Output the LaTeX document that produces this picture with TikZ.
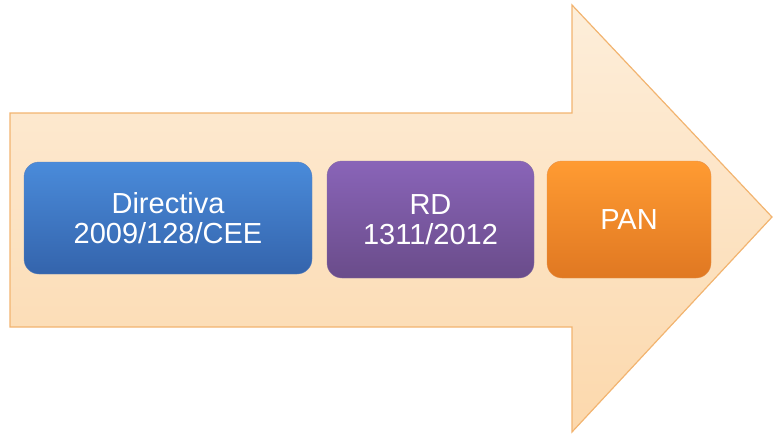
\documentclass[tikz,border=0pt]{standalone}
\usepackage{fontspec}
\setmainfont{Liberation Sans}
\newlength{\du}
\setlength{\du}{1pt}
\definecolor{arrowtop}{RGB}{253,238,218}
\definecolor{arrowbottom}{RGB}{252,216,172}
\definecolor{arrowline}{RGB}{242,180,112}
\definecolor{bluetop}{RGB}{74,139,218}
\definecolor{bluebottom}{RGB}{52,100,172}
\definecolor{purpletop}{RGB}{137,100,184}
\definecolor{purplebottom}{RGB}{106,76,138}
\definecolor{orangetop}{RGB}{255,155,50}
\definecolor{orangebottom}{RGB}{224,120,34}
\tikzset{
  stagebox/.style={rounded corners=15\du, shade, text=white, align=center,
    font=\fontsize{29}{30}\selectfont, inner sep=0pt},
}
\begin{document}
\begin{tikzpicture}[x=\du,y=-\du]
\useasboundingbox (0,0) rectangle (774,434);
% big arrow
\draw[arrowline, line width=1.2\du, top color=arrowtop, bottom color=arrowbottom]
  (10,113) -- (572,113) -- (572,5) -- (772,217) -- (572,432) -- (572,327) -- (10,327) -- cycle;
% stages
\node[stagebox, draw=bluebottom!80, top color=bluetop, bottom color=bluebottom,
  minimum width=288\du, minimum height=112\du] (directiva) at (168,218) {Directiva\\2009/128/CEE};
\node[stagebox, draw=purplebottom!80, top color=purpletop, bottom color=purplebottom,
  minimum width=207\du, minimum height=117\du] (rd) at (430.5,219.5) {RD\\1311/2012};
\node[stagebox, draw=orangebottom!80, top color=orangetop, bottom color=orangebottom,
  minimum width=164\du, minimum height=117\du] (pan) at (629,219.5) {PAN};
\end{tikzpicture}
\end{document}
